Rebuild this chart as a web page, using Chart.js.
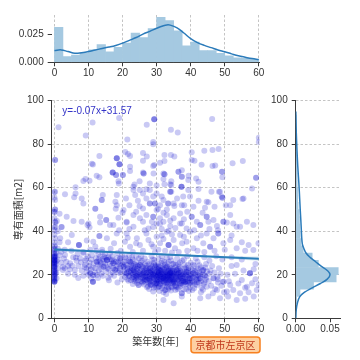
<!DOCTYPE html>
<html><head><meta charset="utf-8">
<script src="https://cdn.jsdelivr.net/npm/chart.js@4.4.0/dist/chart.umd.min.js"></script>
<style>
html,body{margin:0;padding:0;background:#fff;}
#wrap{position:relative;width:360px;height:360px;overflow:hidden;background:#fff;}
canvas{position:absolute;}
</style></head><body>
<div id="wrap">
<canvas id="top" width="275" height="90" style="left:0;top:0;width:275px;height:90px"></canvas>
<canvas id="main" width="275" height="270" style="left:0;top:90px;width:275px;height:270px"></canvas>
<canvas id="right" width="98" height="270" style="left:262px;top:90px;width:98px;height:270px"></canvas>
</div>
<script>
// ---------- data ----------
const xTicks = [0, 10, 20, 30, 40, 50, 60];
const yTicks = [0, 20, 40, 60, 80, 100];
const topYTicks = [0, 0.025];
const rightXTicks = [0, 0.05];
const xLabel = '築年数[年]';
const yLabel = '専有面積[m2]';
const areaName = '京都市左京区';
const equationText = 'y=-0.07x+31.57';

// top marginal histogram (築年数, density)
const topBinCenters = [1.25,3.75,6.25,8.75,11.25,13.75,16.25,18.75,21.25,23.75,26.25,28.75,31.25,33.75,36.25,38.75,41.25,43.75,46.25,48.75,51.25,53.75,56.25,58.75];
const topDensity = [0.031,0.005,0.0065,0.0085,0.011,0.0158,0.0092,0.0134,0.017,0.026,0.022,0.030,0.040,0.037,0.028,0.0146,0.018,0.0104,0.0104,0.008,0.0057,0.004,0.0036,0.0027];
const topKdeX = [0,2,4,6,8,10,12,14,16,18,20,22,24,26,28,30,32,33,34,36,38,40,42,44,46,48,50,52,54,56,58,60];
const topKdeY = [0.0105,0.011,0.0095,0.008,0.0085,0.0095,0.011,0.0122,0.0135,0.015,0.017,0.0195,0.022,0.025,0.0275,0.0302,0.0325,0.0332,0.033,0.0305,0.026,0.021,0.0175,0.015,0.013,0.011,0.0093,0.0075,0.0058,0.0045,0.0033,0.0025];

// right marginal histogram (専有面積, density)
const rightBinCenters = [1.67,5,8.33,11.67,15,18.33,21.67,25,28.33,31.67,35,38.33,41.67,45,48.33,51.67,55,58.33,61.67,65,68.33,71.67,75,78.33,81.67,85,88.33,91.67];
const rightDensity = [0,0.0005,0.0015,0.0063,0.026,0.059,0.062,0.033,0.024,0.011,0.0075,0.0065,0.006,0.0055,0.005,0.0035,0.003,0.0028,0.0022,0.002,0.0018,0.0016,0.0014,0.001,0.0008,0.0006,0.0006,0.0007];
const rightKdeY = [0,4,7,10,12,14,16,18,20,22,24,26,28,30,32,34,37,40,45,50,55,60,65,70,75,80,85,90,95];
const rightKdeX = [0.0002,0.0008,0.0025,0.006,0.013,0.024,0.036,0.046,0.050,0.046,0.037,0.029,0.021,0.015,0.012,0.0098,0.0088,0.0083,0.0075,0.0066,0.0058,0.005,0.004,0.003,0.0022,0.0015,0.0009,0.0005,0.0002];

// regression line and confidence band
const regX = [0, 60];
const regY = [31.57, 27.37];
const ciX = [0, 10, 20, 30, 40, 50, 60];
const ciLow = [30.7, 30.3, 29.75, 29.05, 28.3, 27.5, 26.4];
const ciHigh = [32.45, 31.45, 30.6, 29.9, 29.25, 28.65, 28.35];

// scatter points [築年数, 専有面積]
const pointsUpper = [
[1.2,87.8],[9.2,84],[11.2,90],[19,92],[27.1,89],[29.3,91.5],[29.3,91.5],[29.3,91.5],[34.2,86.7],[36.2,85.4],[46.3,91.6],[60,83],[60,81],[21.4,82.2],[29,81],[29,80],
[0.2,72.8],[0.2,72.8],[13.2,74.6],[11.3,70.7],[18.3,73.5],[18.3,73.5],[18.3,73.5],[19.1,70.8],[19.1,70.8],[19.1,70.8],[20.8,76.4],[21.6,75.5],[22.2,74.6],[26,76],[27.1,74.3],[32.3,75],[32.3,72.3],[34.2,75],[35.2,74.3],[31,71.5],[29.3,70.4],[40.3,76.3],[40.3,72.7],[41.1,72.4],[43.2,70.6],[44,77],[46.4,77.3],[48.2,77.8],[46.4,70],[47.2,70.2],[52.3,71.2],[55.3,72.3],[26,72.4],[22.2,69.7],[11,71],
[22.2,67.7],[17.1,67],[17.1,67],[17.1,67],[18.1,65.8],[18.1,65.8],[20.1,65.8],[20.1,65.8],[18.9,62],[12.4,65.5],[13.2,64.8],[9.1,64],[10.3,63.2],[8.5,63.1],[6.2,60.2],[26.2,66.6],[26.2,66.6],[26,67],[29.1,66.6],[29,70],[32,66.6],[32,64],[32.3,66.2],[32.3,66.2],[36.4,67.4],[36.4,67.4],[37.4,68],[37.4,65],[37.4,65],[34.3,63],[34.3,61.3],[37.3,60.5],[37.3,60.5],[37.3,60.5],[39.4,65.5],[39.3,63.5],[41.6,64.3],[42.3,62.8],[42.3,59.4],[49.2,67.3],[49.2,67.3],[49.3,64.8],[59.2,64.6],[59.2,64.6],[32.3,61.6],[34,61.6],[28,62],[30,61],[25,63],[23.5,61.5],[18.8,63],
[0.2,58.2],[0.2,54.4],[0.2,50],[0.2,50],[3.1,57],[5.8,55.6],[8,55],[8.5,52.8],[6.2,57.4],[12,50.4],[12,50.4],[13.9,54.4],[13.9,54.4],[14.2,56.7],[17.9,53.6],[18.3,56.7],[18.3,52],[18,50.4],[20.3,49.8],[23.2,60.5],[23.2,59],[23.7,56.7],[25.1,59],[26,57.4],[27,59.3],[28,59],[28,52.8],[28,52.8],[29,56],[29.5,52.8],[29.5,52.8],[30,49.8],[30,57.4],[32,54.4],[34,58.2],[34,58.2],[34.3,58.2],[33.4,52.8],[33.4,52.8],[35,52.8],[35.2,51.6],[37.4,52],[37.8,56],[38.1,52],[39.3,59],[39.8,56],[40.8,51.3],[42.3,54],[44.7,53.6],[45.2,53.3],[46.1,58.2],[48.3,58.2],[48.6,58.2],[49.1,56],[49.3,55.4],[49.3,55.4],[47,51.3],[44.2,50.8],[50.3,52],[51.6,52],[52.5,54.4],[55.5,55],[55.2,54.8],[58,59.7],[21,55],[22,52],[24.5,54],[26,50.5],[31,52],[31.5,56],[27,55],[36,55],[33,50],[30.4,50.2],[25,51.5],
[0.7,44.7],[0,41.8],[0,48.8],[2.1,42],[2.1,42],[1.5,48],[3.6,46.7],[5.6,44.7],[8,44.4],[9.7,42.9],[10.3,41.8],[13.4,46.7],[15.2,45.2],[15.2,45.2],[17.3,42.9],[18.8,46.2],[21.2,44.4],[23.2,47.5],[25.1,46],[27,47.5],[28.6,44.4],[29,46.7],[29,46.7],[31,46],[33,47.5],[35,46],[36.9,48.2],[37.4,43.6],[40.3,46.7],[40.3,46.7],[41.8,44.4],[42.8,42.9],[44.7,46.7],[44.7,46.7],[46.7,45.2],[49.6,44.4],[49.6,44.4],[51.6,47.5],[52.5,43.6],[54.5,42.1],[56.5,44.4],[58.4,42.9],[0.2,44.4],[10,43.6],[13.4,44],[16.3,42.9],[21.2,44],[23.2,42.1],[26,44.4],[27.6,41.3],[30,43.6],[32,44.4],[34,42.4],[36.9,43.6],[38.8,41.3],[42.8,42.9],[45.2,44.4],[47.7,42.4],[50.6,44],[53.5,42.1],[20,48.5],[24,49],[26.5,40.5],[31.5,41],[33.5,40.2],[35.5,41.5],[39,49],[41,40.5],[43.5,48.5],[48,40.5],[29,42],[32,48.5],[22,41],[19,40.5],[38,45.5],[45.5,41],[34,45],[31,43.5]
];
const pointsMiddle = [
[0.2,36.8],[0.2,33],[1.7,36.8],[5.1,38.3],[7.2,33.7],[7.2,33.7],[7.2,33.7],[9.5,35.7],[11.4,35.2],[13.2,37.8],[13.2,37.8],[15.4,36.8],[18.3,39],[21.2,39],[20.7,35.2],[22.2,32.9],[24.2,36.8],[25.1,33.7],[27,39],[27.6,36],[29,32.9],[30,37.5],[31,34.5],[33,39.8],[33.5,33.7],[33.5,33.7],[33.5,33.7],[35,36],[35.4,32.2],[36.9,38.3],[38.8,35.2],[39.8,39.8],[40.8,32.2],[41.8,36.8],[43.7,34.5],[44.7,39],[45.7,32.9],[45.7,32.9],[46.7,36.8],[48.1,39],[48.1,39],[49.6,34.5],[51.6,36],[53.5,32.2],[57,33.7],[58.4,31.4],[59.9,34.5],[3,31.5],[4,35],[8.5,30.5],[10.5,31.5],[12,33],[14,30.5],[16.5,32],[17.5,34.5],[19.5,31],[21.5,37],[23,30.5],[26,31],[28.5,34],[30.5,31.5],[32,36.5],[34.5,38.5],[36.5,30.5],[37.5,34.5],[39,31],[42,31],[43,38],[44,30.5],[47,31],[50,31.5],[52,38],[55,35],[56,31],[29.5,30.3],[32.5,31],[34.5,30.2],[31.5,38],[38,37.5],[24,34.5]
];
const pointsLeft = [
[0,28.3],[0,28.3],[0,26.8],[0,26.8],[0,25.3],[0,25.3],[0,23.7],[0,23.7],[0,30],[0,31],[0,32],[0,29],[0,27.5],[0,26],[0,24.5],[0,22],[0,21],[0,20],[0,19],[0,18],[0,17],[0,16.8],[0,16.8],[0,16.8],[0,22.5],[0,20.5],[0,27],[0,33.5],[0,35],[0,38.5],[0,40.6],[0,46],[0,49],[0.5,25],[0.5,30],[0.5,21],[1,27],[1,32],[1,23],[1.5,29],[1.5,35],[2,25.5],[2,30.6],[2.5,23.7],[2.5,22.2],[0,55.5],[0,58],[0.3,44],[0.3,42],[1,40],
[0,29.5],[0,27.8],[0,26.3],[0,24.8],[0,23.2],[0,21.6],[0,19.6],[0,18.4],[0,17.4],[0,31.6],[0,22.8],[0,25.8],[0.3,28.6],[0.3,20.6],[0.6,26.4],[0.6,18.4],
[0,26.8],[0,25.3],[0,28.3],[0,23.7],[0,21.2],[0,19.2],
[3.1,29.1],[3.5,26],[4,24],[4.6,25.3],[4.5,22.5],[5.5,28],[6,22.2],[6.5,26.5],[7,24],[7.5,27.6],[8,22],[8.5,30],[9,24.5],[9,26.5],[9.5,21.5],[9.8,28.5],[4,20.5],[6,20],[7,18.5],[8.5,19.5],[3,23],[5,31],[6.8,29.5],[2.8,27.5],[9.5,23],
[5.2,24.1],[6.3,27.8],[7.8,25.8],[8.8,23.6],[9.3,27.4],
[10.5,20.7],[10.5,20.7],[11.4,19.9],[11.4,19.9],[11.3,16.8],[11.3,16.8],[11.3,16.8],[10,20],[10.2,24],[10.8,27],[11,29],[12.4,26],[12.4,26],[12,23],[12,21],[12.8,18.5],[13.4,28.3],[13.4,24.5],[13,22],[13.8,20.5],[14.4,23.7],[14.4,23.7],[14.5,26.5],[14.8,29.5],[14.2,19.5],[15.4,26.8],[15.4,26.8],[15.4,26.8],[15,24],[15.2,21.5],[15.8,28],[16.3,29.9],[16.3,25],[16,22.5],[16.5,20],[16.8,27],[17.3,25.3],[17.3,25.3],[17.3,23],[17,28.5],[17.8,22.2],[17.8,22.2],[17.5,19.5],[18,26],[18.3,24],[18.5,30],[18.8,21],[19.3,27.6],[19.3,27.6],[19,25],[19.2,23],[19.5,20.5],[19.8,18],[19.8,29],[12.3,31],[14,31.5],[16,17.5],[18.5,16.5],[13,27],
[10.7,22.5],[11.6,25.3],[12.2,27.6],[12.7,24.6],[13.3,26],[13.7,22.8],[14.1,27.2],[14.9,25.3],[15.6,22.9],[16.2,27.3],[16.6,24],[17.1,21],[17.6,26.2],[18.2,22.8],[18.7,25.6],[19.1,21.9],[19.6,24.1],[10.9,18.3],[12.5,19.9],[15.8,18.6],
[10.3,25.6],[11.2,23.3],[12.9,29.4],[14.6,28.2],[16.9,26.2],[18.4,27.7],[19.4,26.3],[15.1,27.9],[13.6,25.4]
];
const pointsBand = [
[20.3,23.7],[20.3,23.7],[20.5,26],[20.5,21],[20.8,19],[20.8,28],[21.2,20.7],[21.2,20.7],[21.2,24.5],[21.5,22.5],[21.5,18],[21.8,26.5],[21.8,21.5],[22.2,26],[22.2,26],[22.2,23],[22,19.5],[22,29],[22.4,17.5],[20,25],[21,27.5],
[22.6,22],[22.6,24.5],[22.8,20],[23,27],[23.2,22.2],[23.2,22.2],[23.2,19],[23.4,25],[23.5,17],[23.7,21],[23.7,23.5],[24,26],[24,19.5],[24.2,19.1],[24.2,22.5],[24.4,24],[24.5,17.5],[24.7,15.3],[24.7,15.3],[24.8,21],[24.8,27.5],[23,15.8],[24,28.5],[22.8,28],[24.5,20],[23.8,18.5],[23,24],[24.3,16.2],
[25.1,24.5],[25.1,24.5],[25.2,21.5],[25.3,19],[25.5,22.5],[25.5,17],[25.7,26.5],[25.8,20],[26.1,20.7],[26.1,20.7],[26,23.5],[26.2,18],[26.3,15.5],[26.5,22],[26.6,25],[26.8,19.5],[27.1,17.6],[27.1,17.6],[27,21],[27.2,23],[27.3,26],[27.4,14.8],[25.5,28.5],[26.5,27.5],[27,19],[25.8,16.3],
[27.6,22],[27.7,19.5],[27.8,25],[28.1,23],[28.1,23],[28,17],[28.2,20.5],[28.3,15.5],[28.5,21.5],[28.5,18.5],[28.7,24],[28.8,27],[29,19.9],[29,19.9],[29,22.5],[29.1,16.5],[29.2,25.5],[29.4,18],[29.5,21],[29.6,23.5],[29.7,14.5],[29.8,20],[29.9,17],[27.8,13.5],[28.5,28.5],[29.3,26.8],[28,21],[29.5,15.6],[27.9,16.2],[29,12.3],[28.6,19],
[30,16.1],[30,16.1],[30.1,19],[30.2,21.5],[30.2,23.5],[30.3,18],[30.4,25],[30.5,20],[30.6,14.5],[30.7,22],[30.8,17],[31,22.2],[31,22.2],[31,19.5],[31.2,16],[31.3,24],[31.4,20.5],[31.5,18],[31.6,26.5],[31.7,21],[31.8,15],[32,18.4],[32,18.4],[32,18.4],[32.1,20],[32.2,22.5],[32.3,16.5],[32.4,24.5],[32.5,13],[32.5,13],[32.6,19.5],[32.7,21.5],[32.8,17.5],[33,23.7],[33,23.7],[33.1,20],[33.2,18.5],[33.3,15.5],[33.4,22],[33.5,26],[33.6,19],[33.7,16.8],[33.8,21],[34,20.7],[34,20.7],[34,20.7],[34.1,17.5],[34.2,23],[34.3,14.5],[34.4,19.5],[34.5,22],[34.6,18],[34.7,25],[34.8,16],[34.9,20.2],[30.5,27.5],[31.5,28.5],[33,27.8],[34,28.2],[32,12],[33.5,14],[30.8,12.5],[34.2,12.8],[32,8.4],[31.2,17.3],[33.3,19.8],[30.3,21],[32.9,21.1],[31.9,23.3],[34.5,16.8],[33.8,17.9],[30.9,18.6],[32.4,19.1],[33.6,22.6],
[35,16.8],[35,16.8],[35.1,19.5],[35.2,21.8],[35.3,18],[35.5,23.5],[35.6,15],[35.7,20.5],[35.9,22.2],[35.9,22.2],[36,17.5],[36.2,19],[36.3,25],[36.4,14],[36.5,21],[36.6,18.3],[36.8,16.2],[36.9,19.1],[36.9,19.1],[37,23],[37.2,20.3],[37.4,11.5],[37.4,11.5],[37.4,17.2],[37.5,26.5],[37.6,21.5],[37.8,15.5],[38,18.8],[38.2,22.8],[38.4,16.8],[38.4,16.8],[38.5,20],[38.7,13.5],[38.8,22.2],[39,18],[39.2,24.5],[39.4,15.3],[39.5,20.8],[39.8,18.4],[39.8,18.4],[39.9,16.5],[35,6.9],[37.4,10],[36,27.5],[38,27],[39,28.5],[35.5,13],[37,14.8],[39.5,12.5],[36.7,23.8],[38.9,21.2],
[40.2,22.5],[40.5,17],[40.8,20.7],[40.8,20.7],[41,24],[41.2,15.5],[41.5,19],[41.8,15.3],[41.8,22],[42,26],[42.3,17.8],[42.5,21],[42.8,18.4],[42.8,18.4],[42.8,9.2],[43,23.5],[43.2,14],[43.5,20],[43.7,22.2],[43.7,22.2],[44,16.5],[44.2,19.5],[44.5,25],[44.7,14.5],[44.8,21.5],[40.5,13],[41.5,27.5],[43,12],[44,28],[40,25.5],[42,19.8],[44.4,17.7],
[45.2,10],[45.3,17],[45.5,20.5],[45.8,22],[46,15],[46.3,24],[46.7,18.4],[46.7,18.4],[47,21],[47.2,13.5],[47.7,13],[47.8,19],[48,16.5],[48.3,23],[48.6,9.2],[48.8,20.5],[49,15],[49.3,27],[49.6,16.8],[49.6,16.8],[49.8,12],[45.5,26.5],[47.5,28.5],[46.5,11.5],[48,18],
[50.6,12.3],[50.8,20],[51.2,17],[51.6,15.3],[52,24],[52.5,13],[53,20.5],[53.5,8.4],[54,16],[54.5,11.5],[55,17.6],[55.5,22],[56,14],[56.5,14.5],[57,12],[57.4,20.7],[57.4,20.7],[57.4,20.7],[58,16.1],[58.5,10],[59,18],[59.4,13],[59.9,15.3],[52,28],[55,27],[59,25],[51,10],[56,9],[53.5,24.5],[58.5,22.5]
];
const pointsCore = [
[20.6,22.4],[21,20],[21.4,23.2],[21.9,19.6],[22.3,21.8],[22.7,23.1],[23.1,20.6],[23.6,19.8],[24.1,21.7],[24.6,18.9],[20.9,24.8],[22.5,25.7],[23.9,24.6],[24.4,20.4],[21.7,17.2],[23.3,18.1],
[25.3,20.3],[25.6,23.9],[25.9,18.7],[26.3,21.2],[26.7,19.1],[27,22.4],[27.4,20.1],[27.8,18.2],[28.2,22.1],[28.6,20.2],[28.9,17.9],[29.3,21.6],[29.6,19.3],[29.9,22.8],[26,16.8],[27.5,16.5],[28.8,15.2],[25.4,25.8],[26.9,24.1],[28.4,24.6],[29.8,24.4],[27.2,14.3],[29.2,14],[26.4,17.3],
[30.1,17.5],[30.4,19.6],[30.7,21.2],[30.9,15.8],[31.1,18.2],[31.3,20.2],[31.6,22.8],[31.8,17.1],[32.1,19.2],[32.3,21.2],[32.6,15.9],[32.8,18.9],[33,20.8],[33.2,16.6],[33.5,18.2],[33.7,20.2],[33.9,23.4],[34.2,16.1],[34.4,18.7],[34.6,20.6],[34.8,22.6],[30.6,23.8],[31.4,25.4],[32.2,26],[33.1,25.2],[34.3,26.6],[30.2,14.2],[31.6,13.8],[33,14.5],[34.6,14.1],[32.8,11.2],[31.2,21.6],[32.5,17.6],[33.9,19.4],[30.8,19.9],[34.1,21.8],
[35.2,17.6],[35.4,20.1],[35.7,18.6],[35.9,16.1],[36.1,20.4],[36.4,22.6],[36.6,17],[36.9,21.7],[37.1,18.4],[37.3,16.1],[37.6,19.6],[37.9,17.3],[38.1,20.6],[38.3,18.1],[38.6,15.8],[38.8,19.3],[39.1,17.1],[39.3,21.9],[39.6,16.3],[39.9,19.6],[35.6,24.6],[36.8,25.6],[38.2,24.6],[39.4,23.1],[36.2,13.4],[38,13.2],[39.7,14.2],[35.3,14.9],
[40.3,18.6],[40.6,21.8],[40.9,16.4],[41.3,20.1],[41.7,17.6],[42.1,22.9],[42.4,16.3],[42.7,20.3],[43.1,17.1],[43.4,21.8],[43.8,15.6],[44.1,19.8],[44.6,18.8],[40.8,24.6],[42.6,24.4],[44.3,23.4],[41,13.8],[43.6,13.1]
];
const pointsCore2 = [
[22.4,20.8],[22.9,18.6],[23.4,21.4],[23.9,17.6],[24.3,22.8],[24.9,19.8],[25.4,18.2],[25.8,21.9],[26.2,19.6],[26.6,17.9],[27,20.8],[27.3,18.8],[27.7,21.3],[28,19.2],[28.4,17.2],[28.7,21.9],[29.1,18.6],[29.4,20.6],[29.7,16.2],[30,18.9],[30.3,16.8],[30.6,20.8],[30.9,17.6],[31.2,19.2],[31.5,21.9],[31.8,18.9],[32.1,16.9],[32.4,20.6],[32.7,18.1],[33,16.2],[33.3,21.6],[33.6,17.6],[33.9,19.9],[34.2,18.3],[34.5,21.2],[34.8,17.4],[35.1,20.9],[35.4,16.4],[35.7,19.2],[36,21.6],[36.3,17.8],[36.6,19.8],[36.9,15.6],[37.2,21.1],[37.5,18.4],[37.8,20.2],[38.1,16.6],[38.4,19.6],[38.7,21.4],[39,16.8],[39.3,19.9],[39.6,18.3],[40,20.3],[40.4,16.3],[40.8,18.9],[41.2,21.6],[41.6,18.1],[42,16.6],[42.4,19.6],[31,14.9],[33.4,13.4],[35.8,14.4],[28.2,15.4],[26.8,23.2],[29.5,24.2],[32.6,23.4],[35,25.2],[38.6,23.4],[24.6,23.8],[30.5,22.6],[31.9,20.3],[33.2,19.1],[34.7,19.4],[36.4,20.8],[37.7,17.1],[30.3,19.8],[28.9,20.4],[27.9,17.9]
];

// ---------- styling ----------
const NUM_FONT = '"Liberation Sans", Arial, sans-serif';
const CJK_FONT = '"Noto Sans CJK JP", sans-serif';
const TEXT = '#333333';
const AXIS = '#3a3a3a';
const GRID = '#c4c4c4';
const DASH = [2.5, 2];
const HIST = '#a5c9e1';
const KDE = '#2b7bba';
Chart.defaults.font.family = NUM_FONT;
Chart.defaults.font.size = 10;
Chart.defaults.color = TEXT;

const fixedTicks = arr => scale => { scale.ticks = arr.map(v => ({value: v})); };
const common = {
  responsive: false, animation: false, events: [],
  plugins: {legend: {display: false}, tooltip: {enabled: false}}
};

// ---------- top marginal ----------
new Chart(document.getElementById('top'), {
  type: 'bar',
  data: {
    datasets: [
      {type: 'line', data: topKdeX.map((x, i) => ({x, y: topKdeY[i]})), borderColor: KDE, borderWidth: 1.5, pointRadius: 0, tension: 0.4, fill: false, order: 0},
      {data: topBinCenters.map((x, i) => ({x, y: topDensity[i]})), backgroundColor: HIST, borderWidth: 0, barPercentage: 1, categoryPercentage: 1, order: 1}
    ]
  },
  options: Object.assign({}, common, {
    layout: {padding: {top: 15, right: 15.5, bottom: 0, left: 0}},
    scales: {
      x: {type: 'linear', min: -0.8, max: 60.2, offset: false,
          afterBuildTicks: fixedTicks(xTicks), afterFit: s => { s.height = 27.7; },
          grid: {display: true, offset: false, color: GRID, tickColor: AXIS, tickLength: 4, drawOnChartArea: true},
          border: {display: true, color: AXIS, width: 1, dash: DASH},
          ticks: {padding: 1, maxRotation: 0, autoSkip: false}},
      y: {type: 'linear', min: 0, max: 0.042,
          afterBuildTicks: fixedTicks(topYTicks), afterFit: s => { s.width = 51.7; },
          grid: {display: true, drawOnChartArea: false, tickColor: AXIS, tickLength: 4},
          border: {display: false},
          ticks: {padding: 4, callback: v => Number(v).toFixed(3)}}
    }
  })
});

// ---------- main scatter ----------
const allPoints = pointsUpper.concat(pointsMiddle, pointsLeft, pointsBand, pointsCore, pointsCore2);
const annotate = {
  id: 'annotate',
  afterDatasetsDraw(chart) {
    const {ctx, chartArea} = chart;
    ctx.save();
    ctx.font = '10px ' + NUM_FONT;
    ctx.fillStyle = '#3434c8';
    ctx.textAlign = 'left';
    ctx.textBaseline = 'middle';
    ctx.fillText(equationText, chartArea.left + 10.6, chartArea.top + 10.3);
    // area name box
    const bw = 69, bh = 15.7;
    const bx = chartArea.right + 0.5 - bw, by = chartArea.bottom + 18.7;
    ctx.beginPath();
    ctx.roundRect(bx, by, bw, bh, 3);
    ctx.fillStyle = '#fdd0a2';
    ctx.fill();
    ctx.lineWidth = 1.5;
    ctx.strokeStyle = '#f7801f';
    ctx.stroke();
    ctx.font = '10px ' + CJK_FONT;
    ctx.fillStyle = '#c0381c';
    ctx.textAlign = 'center';
    ctx.fillText(areaName, bx + bw / 2, by + bh / 2 + 0.5);
    ctx.restore();
  }
};
new Chart(document.getElementById('main'), {
  type: 'scatter',
  data: {
    datasets: [
      {type: 'line', data: regX.map((x, i) => ({x, y: regY[i]})), borderColor: '#2b7fbb', borderWidth: 2, pointRadius: 0, fill: false, order: 0},
      {type: 'line', data: ciX.map((x, i) => ({x, y: ciHigh[i]})), borderWidth: 0, borderColor: 'rgba(0,0,0,0)', pointRadius: 0, fill: '+1', backgroundColor: 'rgba(43,127,187,0.18)', tension: 0.3, order: 1},
      {type: 'line', data: ciX.map((x, i) => ({x, y: ciLow[i]})), borderWidth: 0, borderColor: 'rgba(0,0,0,0)', pointRadius: 0, fill: false, tension: 0.3, order: 1},
      {data: allPoints.map(p => ({x: p[0], y: p[1]})), backgroundColor: 'rgba(0,0,205,0.21)', borderWidth: 0, pointRadius: 3, order: 2}
    ]
  },
  options: Object.assign({}, common, {
    layout: {padding: {top: 10.7, right: 15.5, bottom: 0, left: 0}},
    scales: {
      x: {type: 'linear', min: -0.8, max: 60.2,
          afterBuildTicks: fixedTicks(xTicks), afterFit: s => { s.height = 41.7; },
          grid: {color: GRID, tickColor: AXIS, tickLength: 4},
          border: {display: true, color: AXIS, width: 1, dash: DASH},
          ticks: {padding: 1, maxRotation: 0, autoSkip: false},
          title: {display: true, text: xLabel, font: {family: CJK_FONT, size: 10}, color: TEXT, padding: {top: 0, bottom: 12.3}}},
      y: {type: 'linear', min: 0, max: 100,
          afterBuildTicks: fixedTicks(yTicks), afterFit: s => { s.width = 51.7; },
          grid: {color: GRID, tickColor: AXIS, tickLength: 4},
          border: {display: true, color: AXIS, width: 1, dash: DASH},
          ticks: {padding: 4},
          title: {display: true, text: yLabel, font: {family: CJK_FONT, size: 10}, color: TEXT, padding: {top: 12, bottom: 0}}}
    }
  }),
  plugins: [annotate]
});

// ---------- right marginal ----------
new Chart(document.getElementById('right'), {
  type: 'bar',
  data: {
    datasets: [
      {type: 'line', data: rightKdeY.map((y, i) => ({x: rightKdeX[i], y})), borderColor: KDE, borderWidth: 1.5, pointRadius: 0, tension: 0.4, fill: false, order: 0},
      {data: rightBinCenters.map((y, i) => ({x: rightDensity[i], y})), backgroundColor: HIST, borderWidth: 0, barPercentage: 1, categoryPercentage: 1, order: 1}
    ]
  },
  options: Object.assign({}, common, {
    indexAxis: 'y',
    layout: {padding: {top: 10.7, right: 19.7, bottom: 0, left: 0}},
    scales: {
      x: {type: 'linear', min: 0, max: 0.065,
          afterBuildTicks: fixedTicks(rightXTicks), afterFit: s => { s.height = 41.7; },
          grid: {display: true, drawOnChartArea: false, tickColor: AXIS, tickLength: 4},
          border: {display: true, color: AXIS, width: 1},
          ticks: {padding: 1, maxRotation: 0, autoSkip: false, callback: v => Number(v).toFixed(2)}},
      y: {type: 'linear', min: 0, max: 100, offset: false,
          afterBuildTicks: fixedTicks(yTicks), afterFit: s => { s.width = 33.7; },
          grid: {display: true, offset: false, color: GRID, tickColor: AXIS, tickLength: 4},
          border: {display: true, color: AXIS, width: 1, dash: DASH},
          ticks: {padding: 4}}
    }
  })
});
</script>
</body></html>
